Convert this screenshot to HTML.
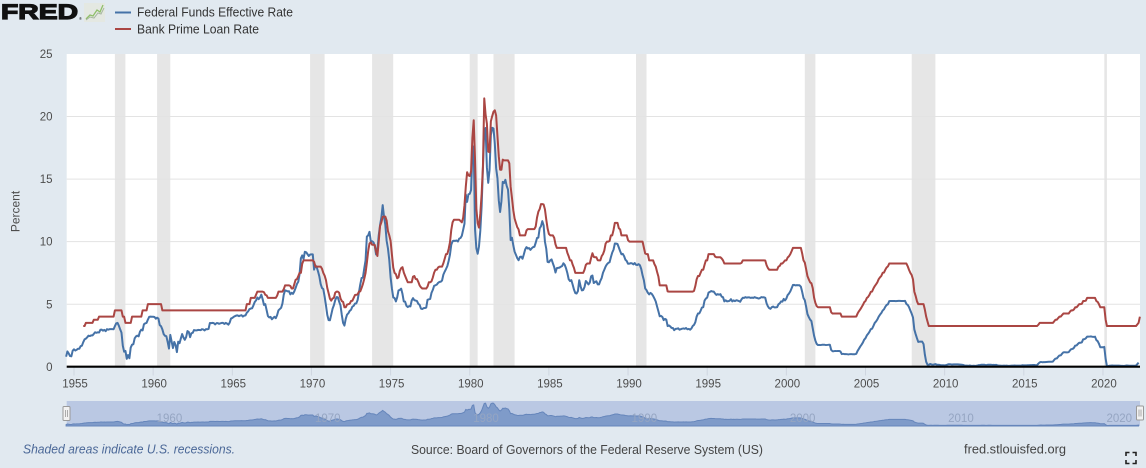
<!DOCTYPE html>
<html><head><meta charset="utf-8">
<style>
html,body{margin:0;padding:0;background:#e1e9f0;width:1146px;height:468px;overflow:hidden}
svg{display:block;font-family:"Liberation Sans",sans-serif}
</style></head><body>
<svg id="c" width="1146" height="468" viewBox="0 0 1146 468">
<rect width="1146" height="468" fill="#e1e9f0"/>
<!-- logo -->
<text x="1" y="19" font-size="21" font-weight="bold" fill="#111" stroke="#111" stroke-width="1.2" textLength="77" lengthAdjust="spacingAndGlyphs">FRED</text>
<text x="79" y="20" font-size="4" fill="#111">®</text>
<rect x="84" y="3" width="21" height="19" fill="#e4e8e2"/>
<polyline points="86,19 90,15 93,16 97,10 100,12 103,5" fill="none" stroke="#8fbf6a" stroke-width="1.3"/>
<polyline points="86,20 90,17 94,18 98,13 101,14 104,8" fill="none" stroke="#a7b7a0" stroke-width="1"/>
<!-- legend -->
<line x1="115" y1="12.5" x2="131" y2="12.5" stroke="#4572a7" stroke-width="2"/>
<text x="137" y="16.7" font-size="12.5" fill="#333" textLength="156" lengthAdjust="spacingAndGlyphs">Federal Funds Effective Rate</text>
<line x1="115" y1="29" x2="131" y2="29" stroke="#aa4643" stroke-width="2"/>
<text x="137" y="33.3" font-size="12.5" fill="#333" textLength="122" lengthAdjust="spacingAndGlyphs">Bank Prime Loan Rate</text>
<!-- plot bg -->
<rect x="66.7" y="54" width="1073.3" height="312.7" fill="#ffffff"/>
<g fill="#e6e6e6">
<rect x="114.9" y="54" width="10.5" height="312.7"/>
<rect x="157.1" y="54" width="13.2" height="312.7"/>
<rect x="310.1" y="54" width="14.5" height="312.7"/>
<rect x="372.1" y="54" width="21.1" height="312.7"/>
<rect x="469.75" y="54" width="7.9" height="312.7"/>
<rect x="493.5" y="54" width="21.1" height="312.7"/>
<rect x="636.0" y="54" width="10.5" height="312.7"/>
<rect x="804.8" y="54" width="10.6" height="312.7"/>
<rect x="911.7" y="54" width="23.7" height="312.7"/>
<rect x="1104.3" y="54" width="2.6" height="312.7"/>
</g>
<g stroke="#e3e3e3" stroke-width="1">
<line x1="66.7" y1="304.2" x2="1140" y2="304.2"/>
<line x1="66.7" y1="241.6" x2="1140" y2="241.6"/>
<line x1="66.7" y1="179.1" x2="1140" y2="179.1"/>
<line x1="66.7" y1="116.5" x2="1140" y2="116.5"/>
</g>
<!-- y labels -->
<g font-size="11.5" fill="#4d4d4d" text-anchor="end">
<text x="52.5" y="370.8">0</text>
<text x="52.5" y="308.3">5</text>
<text x="52.5" y="245.7">10</text>
<text x="52.5" y="183.2">15</text>
<text x="52.5" y="120.6">20</text>
<text x="52.5" y="58.1">25</text>
</g>
<text transform="translate(19.5,211.5) rotate(-90)" font-size="12" fill="#4d4d4d" text-anchor="middle">Percent</text>
<!-- x ticks -->
<g stroke="#cfd6e0" stroke-width="1" id="ticks"></g>
<g font-size="11.5" fill="#4d4d4d" text-anchor="middle" id="xl"></g>
<!-- series -->
<path id="ff" fill="none" stroke="#4572a7" stroke-width="2" stroke-linejoin="round"/>
<path id="pr" fill="none" stroke="#aa4643" stroke-width="2" stroke-linejoin="round"/>
<line x1="66.7" y1="366.7" x2="1140" y2="366.7" stroke="#000" stroke-width="2.2"/>
<!-- navigator -->
<rect x="66.7" y="401" width="1073.3" height="25" fill="#bac8e3"/>
<path id="nav" fill="#7f9bc9" stroke="#6686bb" stroke-width="1"/>
<g font-size="11.5" fill="#95a5c2" id="nl"></g>
<g>
<rect x="63" y="406.5" width="7" height="14" fill="#f2f2f2" stroke="#999" stroke-width="1" rx="1"/>
<line x1="65.5" y1="410" x2="65.5" y2="417" stroke="#999" stroke-width="0.8"/>
<line x1="67.5" y1="410" x2="67.5" y2="417" stroke="#999" stroke-width="0.8"/>
<rect x="1136.5" y="406" width="7" height="14" fill="#f2f2f2" stroke="#999" stroke-width="1" rx="1"/>
<line x1="1139" y1="409.5" x2="1139" y2="416.5" stroke="#999" stroke-width="0.8"/>
<line x1="1141" y1="409.5" x2="1141" y2="416.5" stroke="#999" stroke-width="0.8"/>
</g>
<!-- footer -->
<text x="23" y="453.3" font-size="13" font-style="italic" fill="#4a6797" textLength="212" lengthAdjust="spacingAndGlyphs">Shaded areas indicate U.S. recessions.</text>
<text x="411" y="454" font-size="13" fill="#444" textLength="352" lengthAdjust="spacingAndGlyphs">Source: Board of Governors of the Federal Reserve System (US)</text>
<text x="964" y="453.5" font-size="13" fill="#444" textLength="102" lengthAdjust="spacingAndGlyphs">fred.stlouisfed.org</text>
<g fill="none" stroke="#222" stroke-width="1.6">
<polyline points="1126,456 1126,452.5 1129.5,452.5"/>
<polyline points="1132.5,452.5 1136,452.5 1136,456"/>
<polyline points="1126,460 1126,463.5 1129.5,463.5"/>
<polyline points="1132.5,463.5 1136,463.5 1136,460"/>
</g>
</svg>
<script>
(function(){
var NS="http://www.w3.org/2000/svg";
function X(t){return t*15.83-796.65}
function Y(v){return 366.7-v*12.508}
function R(v,n){var a=[];for(var i=0;i<n;i++)a.push(v);return a}
var FF=[
[1954,6,[0.80,1.22,1.06,0.85,0.83,1.28]],
[1955,0,[1.39,1.29,1.35,1.43,1.43,1.64,1.68,1.96,2.18,2.24,2.35,2.48]],
[1956,0,[2.45,2.50,2.50,2.62,2.75,2.71,2.75,2.73,2.95,2.96,2.88,2.94]],
[1957,0,[2.84,3.00,2.96,3.00,3.00,3.00,2.99,3.24,3.47,3.50,3.28,2.98]],
[1958,0,[2.72,1.67,1.20,1.26,0.63,0.93,0.68,1.53,1.76,1.80,2.27,2.42]],
[1959,0,[2.48,2.43,2.80,2.96,2.90,3.39,3.47,3.50,3.76,3.98,4.00,3.99]],
[1960,0,[3.99,3.97,3.84,3.92,3.85,3.32,3.23,2.98,2.60,2.47,2.44,1.98]],
[1961,0,[1.45,2.54,2.02,1.49,1.98,1.73,1.17,2.00,1.88,2.26,2.61,2.33]],
[1962,0,[2.15,2.37,2.85,2.78,2.36,2.68,2.71,2.93,2.90,2.90,2.94,2.93]],
[1963,0,[2.92,3.00,2.98,2.90,3.00,2.99,3.02,3.49,3.48,3.50,3.48,3.38]],
[1964,0,[3.48,3.48,3.43,3.47,3.50,3.50,3.42,3.50,3.45,3.36,3.52,3.85]],
[1965,0,[3.90,3.98,4.04,4.09,4.10,4.04,4.09,4.12,4.01,4.08,4.10,4.32]],
[1966,0,[4.42,4.60,4.65,4.67,4.90,5.17,5.30,5.53,5.40,5.53,5.76,5.40]],
[1967,0,[4.94,5.00,4.53,4.05,3.94,3.98,3.79,3.90,3.99,3.88,4.13,4.51]],
[1968,0,[4.61,4.71,5.05,5.76,6.11,6.07,6.02,6.03,5.78,5.91,5.82,6.02]],
[1969,0,[6.30,6.61,6.79,7.41,8.67,8.90,8.61,9.19,9.15,9.00,8.85,8.97]],
[1970,0,[8.98,8.98,7.76,8.10,7.95,7.61,7.21,6.61,6.29,6.20,5.60,4.90]],
[1971,0,[4.14,3.72,3.71,4.16,4.63,4.91,5.31,5.56,5.55,5.20,4.91,4.14]],
[1972,0,[3.50,3.29,3.83,4.17,4.27,4.46,4.55,4.80,4.87,5.04,5.06,5.33]],
[1973,0,[5.94,6.58,7.09,7.12,7.84,8.49,10.40,10.50,10.78,10.01,10.03,9.95]],
[1974,0,[9.65,8.97,9.35,10.51,11.31,11.93,12.92,12.01,11.34,10.06,9.45,8.53]],
[1975,0,[7.13,6.24,5.54,5.49,5.22,5.55,6.10,6.14,6.24,5.82,5.22,5.20]],
[1976,0,[4.87,4.77,4.84,4.82,5.29,5.48,5.31,5.29,5.25,5.03,4.95,4.65]],
[1977,0,[4.61,4.68,4.69,4.73,5.35,5.39,5.42,5.90,6.14,6.47,6.51,6.56]],
[1978,0,[6.70,6.78,6.79,6.89,7.36,7.60,7.81,8.04,8.45,8.96,9.76,10.03]],
[1979,0,[10.07,10.06,10.09,10.01,10.24,10.29,10.47,10.94,11.43,13.77,13.18,13.78]],
[1980,0,[13.82,14.13,17.19,17.61,10.98,9.47,9.03,9.61,10.87,12.81,15.85,18.90]],
[1981,0,[19.08,15.93,14.70,15.72,18.52,19.10,19.04,17.82,15.87,15.08,13.31,12.37]],
[1982,0,[13.22,14.78,14.68,14.94,14.45,14.15,12.59,10.12,10.31,9.71,9.20,8.95]],
[1983,0,[8.68,8.51,8.77,8.80,8.63,8.98,9.37,9.56,9.45,9.48,9.34,9.47]],
[1984,0,[9.56,9.59,9.91,10.29,10.32,11.06,11.23,11.64,11.30,9.99,9.43,8.38]],
[1985,0,[8.35,8.50,8.58,8.27,7.97,7.53,7.88,7.90,7.92,7.99,8.05,8.27]],
[1986,0,[8.14,7.86,7.48,6.99,6.85,6.92,6.56,6.17,5.89,5.85,6.04,6.91]],
[1987,0,[6.43,6.10,6.13,6.37,6.85,6.73,6.58,6.73,7.22,7.29,6.69,6.77]],
[1988,0,[6.83,6.58,6.58,6.87,7.09,7.51,7.75,8.01,8.19,8.30,8.35,8.76]],
[1989,0,[9.12,9.36,9.85,9.84,9.81,9.53,9.24,8.99,9.02,8.84,8.55,8.45]],
[1990,0,[8.23,8.24,8.28,8.26,8.18,8.29,8.15,8.13,8.20,8.11,7.81,7.31]],
[1991,0,[6.91,6.25,6.12,5.91,5.78,5.90,5.82,5.66,5.45,5.21,4.81,4.43]],
[1992,0,[4.03,4.06,3.98,3.73,3.82,3.76,3.25,3.30,3.22,3.10,3.09,2.92]],
[1993,0,[3.02,3.03,3.07,2.96,3.00,3.04,3.06,3.03,3.09,2.99,3.02,2.96]],
[1994,0,[3.05,3.25,3.34,3.56,4.01,4.25,4.26,4.47,4.73,4.76,5.29,5.45]],
[1995,0,[5.53,5.92,5.98,6.05,6.01,6.00,5.85,5.74,5.80,5.76,5.80,5.60]],
[1996,0,[5.56,5.22,5.31,5.22,5.24,5.27,5.40,5.22,5.30,5.24,5.31,5.29]],
[1997,0,[5.25,5.19,5.39,5.51,5.50,5.56,5.52,5.54,5.54,5.50,5.52,5.50]],
[1998,0,[5.56,5.51,5.49,5.45,5.49,5.56,5.54,5.55,5.51,5.07,4.83,4.68]],
[1999,0,[4.63,4.76,4.81,4.74,4.74,4.76,4.99,5.07,5.22,5.20,5.42,5.30]],
[2000,0,[5.45,5.73,5.85,6.02,6.27,6.53,6.54,6.50,6.52,6.51,6.51,6.40]],
[2001,0,[5.98,5.49,5.31,4.80,4.21,3.97,3.77,3.65,3.07,2.49,2.09,1.82]],
[2002,0,[1.73,1.74,1.73,1.75,1.75,1.75,1.73,1.74,1.75,1.75,1.34,1.24]],
[2003,0,[1.24,1.26,1.25,1.26,1.26,1.22,1.01,1.03,1.01,1.01,1.00,0.98]],
[2004,0,[1.00,1.01,1.00,1.00,1.00,1.03,1.26,1.43,1.61,1.76,1.93,2.16]],
[2005,0,[2.28,2.50,2.63,2.79,3.00,3.04,3.26,3.50,3.62,3.78,4.00,4.16]],
[2006,0,[4.29,4.49,4.59,4.79,4.94,4.99,5.24,5.25,5.25,5.25,5.25,5.24]],
[2007,0,[5.25,5.26,5.26,5.25,5.25,5.25,5.26,5.02,4.94,4.76,4.49,4.24]],
[2008,0,[3.94,2.98,2.61,2.28,1.98,2.00,2.01,2.00,1.81,0.97,0.39,0.16]],
[2009,0,[0.15,0.22,0.18,0.15,0.18,0.21,0.16,0.16,0.15,0.12,0.12,0.12]],
[2010,0,[0.11,0.13,0.16,0.20,0.20,0.18,0.18,0.19,0.19,0.19,0.19,0.18]],
[2011,0,[0.17,0.16,0.14,0.10,0.09,0.09,0.07,0.10,0.08,0.07,0.08,0.07]],
[2012,0,[0.08,0.10,0.13,0.14,0.16,0.16,0.16,0.13,0.14,0.16,0.16,0.16]],
[2013,0,[0.14,0.15,0.14,0.15,0.11,0.09,0.09,0.08,0.08,0.09,0.08,0.09]],
[2014,0,[0.07,0.07,0.08,0.09,0.09,0.10,0.09,0.09,0.09,0.09,0.09,0.12]],
[2015,0,[0.11,0.11,0.11,0.12,0.12,0.13,0.13,0.14,0.14,0.12,0.12,0.24]],
[2016,0,[0.34,0.38,0.36,0.37,0.37,0.38,0.39,0.40,0.40,0.40,0.41,0.54]],
[2017,0,[0.65,0.66,0.79,0.90,0.91,1.04,1.15,1.16,1.15,1.15,1.16,1.30]],
[2018,0,[1.41,1.42,1.51,1.69,1.70,1.82,1.91,1.91,1.95,2.19,2.20,2.27]],
[2019,0,[2.40,2.40,2.41,2.42,2.39,2.38,2.40,2.13,2.04,1.83,1.55,1.55]],
[2020,0,[1.55,1.58,0.65,0.05,0.05,0.08,0.09,0.10,0.09,0.09,0.09,0.09]],
[2021,0,[0.09,0.08,0.07,0.07,0.06,0.08,0.10,0.09,0.08,0.08,0.08,0.08]],
[2022,0,[0.08,0.08,0.20,0.33]]
];
var PR=[
[1955,7,[3.25,3.25,3.5,3.5,3.5]],
[1956,0,[3.5,3.5,3.5,3.75,3.75,3.75,3.75,4,4,4,4,4]],
[1957,0,[4,4,4,4,4,4,4,4.5,4.5,4.5,4.5,4.5]],
[1958,0,[4.5,4,4,3.5,3.5,3.5,3.5,3.5,4,4,4,4]],
[1959,0,[4,4,4,4,4.5,4.5,4.5,4.5,5,5,5,5]],
[1960,0,[5,5,5,5,5,5,5,4.5,4.5,4.5,4.5,4.5]],
[1961,0,R(4.5,12)],[1962,0,R(4.5,12)],[1963,0,R(4.5,12)],[1964,0,R(4.5,12)],
[1965,0,R(4.5,11).concat([5])],
[1966,0,[5,5,5.5,5.5,5.5,5.5,5.75,6,6,6,6,6]],
[1967,0,[5.96,5.75,5.71,5.5,5.5,5.5,5.5,5.5,5.5,5.5,5.68,6]],
[1968,0,[6,6,6,6.2,6.5,6.5,6.5,6.5,6.45,6.25,6.25,6.6]],
[1969,0,[6.95,7,7.24,7.5,7.5,8.23,8.5,8.5,8.5,8.5,8.5,8.5]],
[1970,0,[8.5,8.5,8.39,8,8,8,8,8,7.83,7.5,7.28,6.92]],
[1971,0,[6.29,5.88,5.44,5.28,5.46,5.5,5.91,6,6,5.91,5.47,5.25]],
[1972,0,[5.18,4.75,4.75,4.97,5,5.04,5.25,5.27,5.5,5.73,5.75,5.79]],
[1973,0,[6,6.02,6.3,6.61,7.01,7.49,8.3,9.23,9.86,9.94,9.75,9.75]],
[1974,0,[9.73,9.21,8.85,10.02,11.25,11.54,11.98,12,12,11.68,10.83,10.5]],
[1975,0,[10.05,8.96,7.93,7.5,7.4,7.07,7.15,7.66,7.88,7.96,7.53,7.26]],
[1976,0,[7,6.75,6.75,6.75,6.75,7.2,7.25,7.01,7,6.78,6.5,6.35]],
[1977,0,[6.25,6.25,6.25,6.25,6.41,6.75,6.75,6.83,7.13,7.52,7.75,7.75]],
[1978,0,[7.93,8,8,8,8.27,8.63,9,9.01,9.41,9.94,10.94,11.55]],
[1979,0,[11.75,11.75,11.75,11.75,11.75,11.65,11.54,11.91,12.9,14.39,15.55,15.3]],
[1980,0,[15.25,15.63,18.31,19.7,16.57,12.63,11.48,11.12,12.23,13.79,16.06,21.45]],
[1981,0,[20.16,19.43,17.2,17.15,19.61,20.03,20.39,20.5,20.08,18.45,16.84,15.75]],
[1982,0,[15.75,16.56,16.5,16.5,16.5,16.5,16.26,14.39,13.5,12.52,11.85,11.5]],
[1983,0,[11.16,10.98,10.5,10.5,10.5,10.5,10.5,10.89,11,11,11,11]],
[1984,0,[11,11,11.21,11.93,12.39,12.6,13,13,12.97,12.58,11.77,11.06]],
[1985,0,[10.61,10.5,10.5,10.5,10.31,9.78,9.5,9.5,9.5,9.5,9.5,9.5]],
[1986,0,[9.5,9.5,9.1,8.83,8.5,8.5,8.16,7.9,7.5,7.5,7.5,7.5]],
[1987,0,[7.5,7.5,7.5,7.75,8.14,8.25,8.25,8.25,8.7,9.07,8.78,8.75]],
[1988,0,[8.75,8.51,8.5,8.5,8.84,9,9.29,9.84,10,10,10.05,10.5]],
[1989,0,[10.5,10.93,11.5,11.5,11.5,11.07,10.98,10.5,10.5,10.5,10.5,10.5]],
[1990,0,[10.11].concat(R(10,11))],
[1991,0,[9.52,9.05,9,9,8.5,8.5,8.5,8.5,8.2,8,7.58,7.21]],
[1992,0,[6.5,6.5,6.5,6.5,6.5,6.5,6.02,6,6,6,6,6]],
[1993,0,R(6,12)],
[1994,0,[6,6,6.06,6.45,6.99,7.25,7.25,7.51,7.75,7.75,8.15,8.5]],
[1995,0,[8.5,9,9,9,9,9,8.8,8.75,8.75,8.75,8.75,8.65]],
[1996,0,[8.5].concat(R(8.25,11))],
[1997,0,[8.25,8.25,8.3].concat(R(8.5,9))],
[1998,0,R(8.5,8).concat([8.49,8.12,7.89,7.75])],
[1999,0,[7.75,7.75,7.75,7.75,7.75,7.75,8,8.06,8.25,8.25,8.37,8.5]],
[2000,0,[8.5,8.73,8.83,9,9.24].concat(R(9.5,7))],
[2001,0,[9.05,8.5,8.32,7.8,7.24,6.98,6.75,6.67,6.28,5.53,5.1,4.84]],
[2002,0,R(4.75,10).concat([4.35,4.25])],
[2003,0,R(4.25,6).concat(R(4,6))],
[2004,0,[4,4,4,4,4,4.01,4.25,4.43,4.58,4.75,4.93,5.15]],
[2005,0,[5.25,5.49,5.58,5.75,5.98,6.01,6.25,6.44,6.59,6.75,7,7.15]],
[2006,0,[7.26,7.5,7.53,7.75,7.93,8.02].concat(R(8.25,6))],
[2007,0,R(8.25,8).concat([8.03,7.74,7.5,7.33])],
[2008,0,[6.98,6,5.66,5.24,5,5,5,5,5,4.56,4,3.61]],
[2009,0,R(3.25,12)],[2010,0,R(3.25,12)],[2011,0,R(3.25,12)],[2012,0,R(3.25,12)],
[2013,0,R(3.25,12)],[2014,0,R(3.25,12)],
[2015,0,R(3.25,11).concat([3.35])],
[2016,0,R(3.5,11).concat([3.62])],
[2017,0,[3.75,3.75,3.88,4,4,4.13,4.25,4.25,4.25,4.25,4.25,4.4]],
[2018,0,[4.5,4.5,4.58,4.75,4.75,4.87,5,5,5.03,5.25,5.25,5.28]],
[2019,0,[5.5,5.5,5.5,5.5,5.5,5.5,5.5,5.25,5.18,4.99,4.75,4.75]],
[2020,0,[4.75,4.75,3.78].concat(R(3.25,9))],
[2021,0,R(3.25,12)],
[2022,0,[3.25,3.25,3.37,3.5,4.0]]
];
function pts(D){var a=[];D.forEach(function(r){r[2].forEach(function(v,i){a.push([(r[0]-1900)+(r[1]+i)/12,v]);});});return a}
function path(a,fy){var d='';a.forEach(function(p,i){d+=(i?'L':'M')+X(p[0]).toFixed(2)+','+fy(p[1]).toFixed(2)});return d}
var f=pts(FF),p=pts(PR);
document.getElementById('ff').setAttribute('d',path(f,Y));
document.getElementById('pr').setAttribute('d',path(p,Y));
function NY(v){return 425.5-v*1.17}
var nd=path(f,NY);
nd+='L'+X(f[f.length-1][0]).toFixed(2)+',426L'+X(f[0][0]).toFixed(2)+',426Z';
document.getElementById('nav').setAttribute('d',nd);
var tg=document.getElementById('ticks'),xl=document.getElementById('xl'),nl=document.getElementById('nl');
for(var y=55;y<=120;y+=5){
  var x=X(y);
  var l=document.createElementNS(NS,'line');
  l.setAttribute('x1',x);l.setAttribute('x2',x);l.setAttribute('y1',367);l.setAttribute('y2',375.5);
  tg.appendChild(l);
  var t=document.createElementNS(NS,'text');
  t.setAttribute('x',x+1);t.setAttribute('y',387.5);t.textContent=String(1900+y);
  xl.appendChild(t);
}
for(var y2=60;y2<=120;y2+=10){
  var t2=document.createElementNS(NS,'text');
  t2.setAttribute('x',X(y2)+3.5);t2.setAttribute('y',422);t2.textContent=String(1900+y2);
  nl.appendChild(t2);
}
})();
</script>
</body></html>
